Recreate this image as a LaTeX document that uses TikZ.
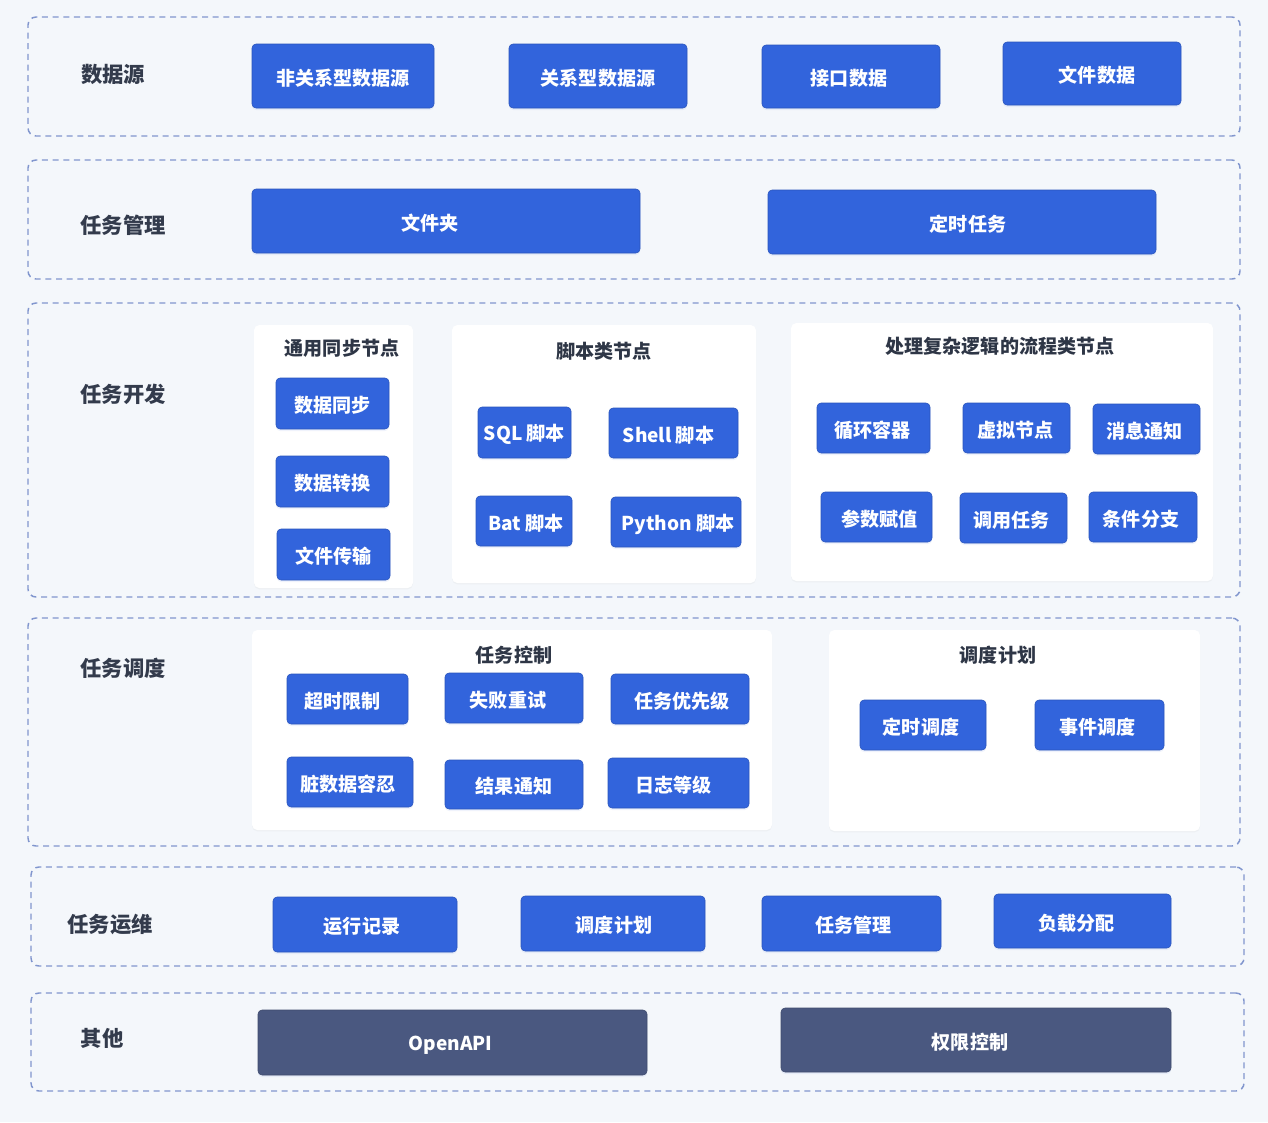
\documentclass[tikz,border=0pt]{standalone}
\usepackage{fontspec}
\setmainfont{Noto Sans CJK SC}
\usetikzlibrary{fit,calc,shadows}
\definecolor{bgc}{HTML}{F4F7FB}
\definecolor{bluec}{HTML}{3264DC}
\definecolor{darkc}{HTML}{4A5880}
\definecolor{dashc}{HTML}{8196CE}
\definecolor{labc}{HTML}{333B4C}
\definecolor{titc}{HTML}{2E3646}
\newcommand{\bx}[7]{%
  \node[bbox,fit={(#2,#3)(#4,#5)}] (#1) {};
  \node[btext] (#1t) at ($(#1.center)+(#6,2)$) {#7};}
\newcommand{\dx}[7]{%
  \node[dbox,fit={(#2,#3)(#4,#5)}] (#1) {};
  \node[btext] (#1t) at ($(#1.center)+(#6,2.5)$) {#7};}
\begin{document}
\begin{tikzpicture}[x=0.75pt,y=-0.75pt,
  layer/.style={draw=dashc,line width=1.1pt,dash pattern=on 4.5pt off 3.5pt,rounded corners=6pt,inner sep=0pt},
  panel/.style={fill=white,draw=none,rounded corners=4pt,inner sep=0pt,drop shadow={opacity=0.06,shadow xshift=0pt,shadow yshift=-1pt}},
  bbox/.style={fill=bluec,draw=bluec!85!black,line width=0.4pt,rounded corners=3pt,inner sep=0pt,drop shadow={opacity=0.12,shadow xshift=0pt,shadow yshift=-1.5pt,fill=bluec!60}},
  dbox/.style={bbox,fill=darkc,draw=darkc!85!black},
  btext/.style={text=white,inner sep=0pt,font=\bfseries\fontsize{14.3}{17}\selectfont},
  lab/.style={text=labc,font=\bfseries\fontsize{16}{19}\selectfont},
  tit/.style={text=titc,font=\bfseries\fontsize{14.3}{17}\selectfont}]
\fill[bgc] (0,0) rectangle (1268,1122);
\useasboundingbox (0,0) rectangle (1268,1122);
% layers
\node[layer,fit={(28,17)(1240,136)}] (L1) {};
\node[layer,fit={(28,160)(1240,279)}] (L2) {};
\node[layer,fit={(28,303)(1240,597)}] (L3) {};
\node[layer,fit={(28,618)(1240,846)}] (L4) {};
\node[layer,fit={(31,867)(1244,966)}] (L5) {};
\node[layer,fit={(31,993)(1244,1091)}] (L6) {};
% labels
\node[lab] (t1) at (113,74) {数据源};
\node[lab] (t2) at (123,225) {任务管理};
\node[lab] (t3) at (123,394) {任务开发};
\node[lab] (t4) at (123,668) {任务调度};
\node[lab] (t5) at (110,924) {任务运维};
\node[lab] (t6) at (102,1038) {其他};
% row 1
\bx{a1}{252}{44}{434}{108}{0}{非关系型数据源}
\bx{a2}{509}{44}{687}{108}{0}{关系型数据源}
\bx{a3}{762}{45}{940}{108}{-2}{接口数据}
\bx{a4}{1003}{42}{1181}{105}{5}{文件数据}
% row 2
\bx{b1}{252}{189}{640}{253}{-16}{文件夹}
\bx{b2}{768}{190}{1156}{254}{6}{定时任务}
% row 3 panels
\node[panel,fit={(254,325)(413,588)}] (p1) {};
\node[panel,fit={(452,325)(756,583)}] (p2) {};
\node[panel,fit={(791,323)(1213,581)}] (p3) {};
\node[tit] (p1t) at (342,348) {通用同步节点};
\node[tit] (p2t) at (604,351) {脚本类节点};
\node[tit] (p3t) at (1000,346) {处理复杂逻辑的流程类节点};
\bx{c1}{276}{378}{389}{429}{0}{数据同步}
\bx{c2}{276}{456}{389}{507}{0}{数据转换}
\bx{c3}{277}{529}{390}{580}{0}{文件传输}
\bx{c4}{478}{407}{571}{458}{0}{SQL 脚本}
\bx{c5}{609}{408}{738}{458}{-5}{Shell 脚本}
\bx{c6}{476}{496}{572}{546}{2}{Bat 脚本}
\bx{c7}{611}{497}{741}{547}{2}{Python 脚本}
\bx{c8}{817}{403}{930}{453}{-1}{循环容器}
\bx{c9}{963}{403}{1070}{453}{-1}{虚拟节点}
\bx{c10}{1093}{404}{1200}{454}{-2}{消息通知}
\bx{c11}{821}{492}{932}{542}{3}{参数赋值}
\bx{c12}{960}{493}{1067}{543}{-2}{调用任务}
\bx{c13}{1089}{492}{1197}{542}{-2}{条件分支}
% row 4 panels
\node[panel,fit={(252,630)(772,830)}] (p4) {};
\node[panel,fit={(829,630)(1200,831)}] (p5) {};
\node[tit] (p4t) at (514,655) {任务控制};
\node[tit] (p5t) at (998,655) {调度计划};
\bx{d1}{287}{674}{408}{724}{-5}{超时限制}
\bx{d2}{445}{673}{583}{723}{-6}{失败重试}
\bx{d3}{611}{674}{749}{724}{2}{任务优先级}
\bx{d4}{287}{757}{413}{807}{-2}{脏数据容忍}
\bx{d5}{445}{760}{583}{809}{0}{结果通知}
\bx{d6}{608}{758}{749}{808}{-5}{日志等级}
\bx{d7}{860}{700}{986}{750}{-2}{定时调度}
\bx{d8}{1035}{700}{1164}{750}{-2}{事件调度}
% row 5
\bx{e1}{273}{897}{457}{952}{-3}{运行记录}
\bx{e2}{521}{896}{705}{951}{1}{调度计划}
\bx{e3}{762}{896}{941}{951}{2}{任务管理}
\bx{e4}{994}{894}{1171}{948}{-6}{负载分配}
% row 6
\dx{f1}{258}{1010}{647}{1075}{-2}{OpenAPI}
\dx{f2}{781}{1008}{1171}{1072}{-6}{权限控制}
\end{tikzpicture}
\end{document}
